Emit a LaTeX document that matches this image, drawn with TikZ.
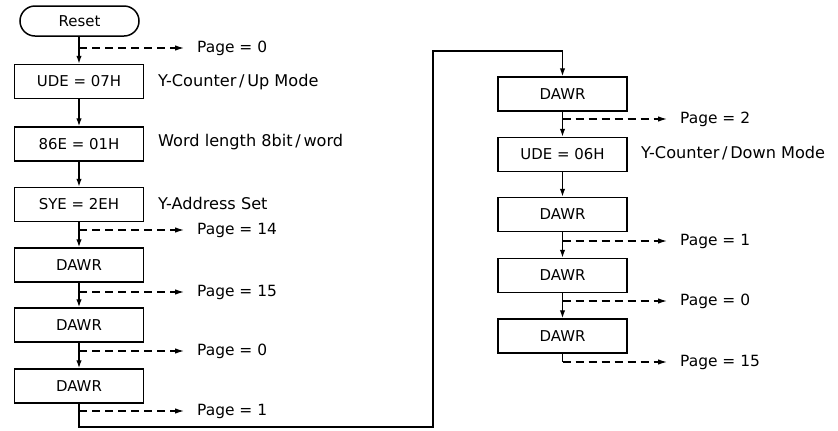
\documentclass[tikz,border=0pt]{standalone}
\usepackage{fontspec}
\setmainfont{DejaVu Sans}
\usetikzlibrary{arrows.meta}
\begin{document}
\begin{tikzpicture}[x=1bp,y=-1bp,
  every node/.style={font=\fontsize{15.5}{18}\selectfont},
  stepbox/.style={draw,line width=1.5bp,minimum width=129bp,minimum height=34bp,inner sep=0pt,font=\fontsize{15}{18}\selectfont},
  startbox/.style={draw,line width=1.5bp,rounded corners=15bp,minimum width=119bp,minimum height=30bp,inner sep=0pt,font=\fontsize{15}{18}\selectfont},
  flow/.style={line width=1.4bp,-{Latex[length=8bp,width=5.5bp]}},
  plain/.style={line width=1.4bp},
  pagearrow/.style={line width=1.2bp,dash pattern=on 8bp off 5bp,-{Latex[length=9bp,width=5.5bp]},shorten >=13bp},
  note/.style={anchor=west,inner sep=0pt,font=\fontsize{16.2}{19}\selectfont},
  pagelbl/.style={anchor=west,inner sep=0pt}]
\useasboundingbox (0,0) rectangle (838,430);
% left column
\node[startbox] (reset) at (79.5,21) {Reset};
\node[stepbox] (ude7) at (79,81.5) {UDE = 07H};
\node[stepbox] (e86) at (79,144) {86E = 01H};
\node[stepbox] (sye) at (79,204.5) {SYE = 2EH};
\node[stepbox] (d1) at (79,265) {DAWR};
\node[stepbox] (d2) at (79,325) {DAWR};
\node[stepbox] (d3) at (79,386) {DAWR};
\node[note] (n1) at (158,82) {Y-Counter\,/\,Up Mode};
\node[note] (n2) at (158,142) {Word length 8bit\,/\,word};
\node[note] (n3) at (158,203) {Y-Address Set};
\node[pagelbl] (pa) at (197,48) {Page = 0};
\node[pagelbl] (pb) at (197,230) {Page = 14};
\node[pagelbl] (pc) at (197,292) {Page = 15};
\node[pagelbl] (pd) at (197,351) {Page = 0};
\node[pagelbl] (pe) at (197,411) {Page = 1};
\coordinate (ba) at (79,48);
\coordinate (bb) at (79,230);
\coordinate (bc) at (79,292);
\coordinate (bd) at (79,351);
\coordinate (be) at (79,411);
\draw[flow] (reset.south -| ude7.north) -- (ude7.north);
\draw[flow] (ude7) -- (e86);
\draw[flow] (e86) -- (sye);
\draw[flow] (sye) -- (d1);
\draw[flow] (d1) -- (d2);
\draw[flow] (d2) -- (d3);
\draw[pagearrow] (ba) -- (pa.west);
\draw[pagearrow] (bb) -- (pb.west);
\draw[pagearrow] (bc) -- (pc.west);
\draw[pagearrow] (bd) -- (pd.west);
\draw[pagearrow] (be) -- (pe.west);
% right column
\node[stepbox] (r1) at (562.5,94) {DAWR};
\node[stepbox] (r2) at (562.5,154.5) {UDE = 06H};
\node[stepbox] (r3) at (562.5,214.5) {DAWR};
\node[stepbox] (r4) at (562.5,275.5) {DAWR};
\node[stepbox] (r5) at (562.5,336) {DAWR};
\node[note] (n4) at (641,153) {Y-Counter\,/\,Down Mode};
\node[pagelbl] (qa) at (680,119) {Page = 2};
\node[pagelbl] (qb) at (680,241) {Page = 1};
\node[pagelbl] (qc) at (680,301) {Page = 0};
\node[pagelbl] (qd) at (680,362) {Page = 15};
\coordinate (ca) at (562.5,119);
\coordinate (cb) at (562.5,241);
\coordinate (cc) at (562.5,301);
\coordinate (cd) at (562.5,362);
\draw[flow] (r1) -- (r2);
\draw[flow] (r2) -- (r3);
\draw[flow] (r3) -- (r4);
\draw[flow] (r4) -- (r5);
\draw[plain] (r5.south) -- (cd);
\draw[pagearrow] (ca) -- (qa.west);
\draw[pagearrow] (cb) -- (qb.west);
\draw[pagearrow] (cc) -- (qc.west);
\draw[pagearrow] (cd) -- (qd.west);
% connecting route
\coordinate (t1) at (79,427);
\coordinate (t2) at (433,427);
\coordinate (t3) at (433,51);
\draw[flow] (d3.south) -- (t1) -- (t2) -- (t3) -| (r1.north);
\end{tikzpicture}
\end{document}
